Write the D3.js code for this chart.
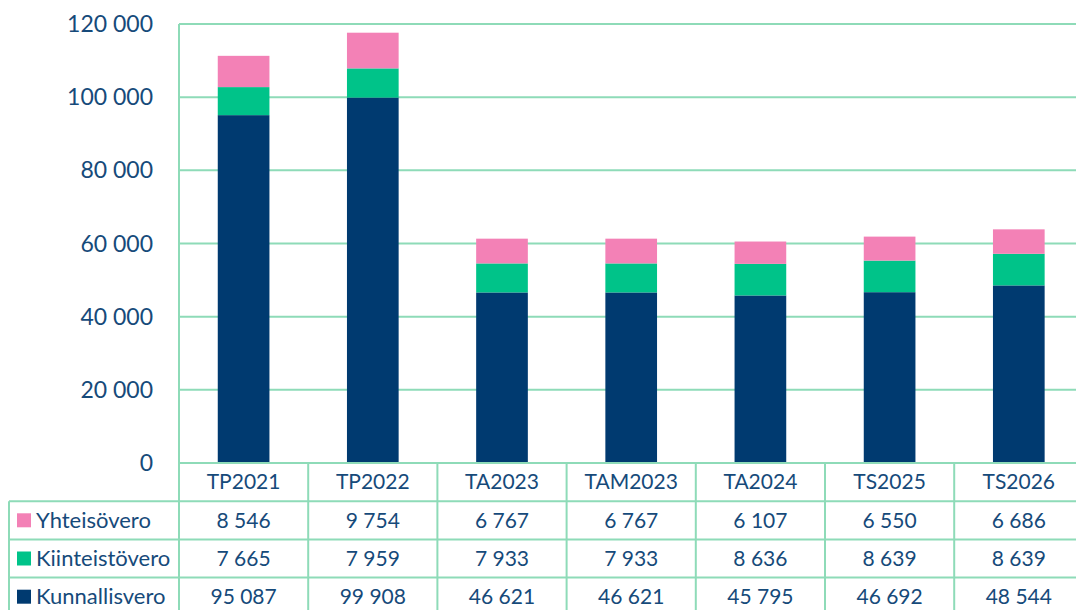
<!DOCTYPE html>
<html>
<head>
<meta charset="utf-8">
<script src="https://cdn.jsdelivr.net/npm/d3@7"></script>
<style>
  body { margin: 0; background: #fff; }
  svg { display: block; font-family: Lato, "Open Sans", sans-serif; }
</style>
</head>
<body>
<svg width="1076" height="610"></svg>
<script>
// chart data
var categories = ["TP2021", "TP2022", "TA2023", "TAM2023", "TA2024", "TS2025", "TS2026"];
var kunnallisvero = [95087, 99908, 46621, 46621, 45795, 46692, 48544];
var kiinteistovero = [7665, 7959, 7933, 7933, 8636, 8639, 8639];
var yhteisovero = [8546, 9754, 6767, 6767, 6107, 6550, 6686];
var seriesNames = ["Kunnallisvero", "Kiinteistövero", "Yhteisövero"];
var yTicks = [0, 20000, 40000, 60000, 80000, 100000, 120000];

var colors = { "Kunnallisvero": "#003a70", "Kiinteistövero": "#00c389", "Yhteisövero": "#f381b6" };
var textColor = "#164a7a";
var lineColor = "#8edbb8";

var width = 1076, height = 610;
var plotLeft = 179, plotTop = 24, plotBottom = 463;
var colW = 129.2;

var svg = d3.select("svg");

// build rows for the stack
var rows = categories.map(function(c, i) {
    return { cat: c, "Kunnallisvero": kunnallisvero[i], "Kiinteistövero": kiinteistovero[i], "Yhteisövero": yhteisovero[i] };
});

var xScale = d3.scaleBand().domain(categories).range([plotLeft, plotLeft + colW * categories.length]).padding(0);
var yScale = d3.scaleLinear().domain([0, 120000]).range([plotBottom, plotTop]);

var fmt = function(v) { return d3.format(",")(v).replace(/,/g, " "); };

// gridlines
svg.append("g")
    .selectAll("line")
    .data(yTicks.slice(1))
    .enter().append("line")
    .attr("x1", plotLeft).attr("x2", width)
    .attr("y1", function(d) { return yScale(d); })
    .attr("y2", function(d) { return yScale(d); })
    .attr("stroke", lineColor)
    .attr("stroke-width", 2);

// y tick labels
svg.append("g")
    .selectAll("text")
    .data(yTicks)
    .enter().append("text")
    .attr("x", 153)
    .attr("y", function(d) { return yScale(d); })
    .attr("dy", "0.35em")
    .attr("text-anchor", "end")
    .attr("fill", textColor)
    .style("font-size", "23px")
    .text(function(d) { return fmt(d); });

// stacked bars
var stack = d3.stack().keys(seriesNames)(rows);
var barW = xScale.bandwidth() * 0.4;

svg.append("g")
    .selectAll("g")
    .data(stack)
    .enter().append("g")
    .attr("fill", function(d) { return colors[d.key]; })
    .selectAll("rect")
    .data(function(d) { return d; })
    .enter().append("rect")
    .attr("x", function(d) { return xScale(d.data.cat) + (xScale.bandwidth() - barW) / 2; })
    .attr("y", function(d) { return yScale(d[1]); })
    .attr("width", barW)
    .attr("height", function(d) { return yScale(d[0]) - yScale(d[1]); });

// data table
var rowH = 38.2;
var tableTop = plotBottom;
var legendLeft = 9;

var grid = svg.append("g").attr("stroke", lineColor).attr("stroke-width", 2);

// left axis line
grid.append("line").attr("x1", plotLeft).attr("x2", plotLeft).attr("y1", plotTop).attr("y2", height);
// header top line
grid.append("line").attr("x1", plotLeft).attr("x2", width).attr("y1", tableTop).attr("y2", tableTop);
// row lines
[1, 2, 3].forEach(function(r) {
    grid.append("line")
        .attr("x1", legendLeft).attr("x2", width)
        .attr("y1", tableTop + r * rowH).attr("y2", tableTop + r * rowH);
});
// legend left border
grid.append("line").attr("x1", legendLeft).attr("x2", legendLeft).attr("y1", tableTop + rowH).attr("y2", height);
// column separators
categories.forEach(function(c) {
    var xr = xScale(c) + xScale.bandwidth();
    grid.append("line").attr("x1", xr).attr("x2", xr).attr("y1", tableTop).attr("y2", height);
});

// header labels
svg.append("g")
    .selectAll("text")
    .data(categories)
    .enter().append("text")
    .attr("x", function(d) { return xScale(d) + xScale.bandwidth() / 2; })
    .attr("y", tableTop + rowH / 2)
    .attr("dy", "0.35em")
    .attr("text-anchor", "middle")
    .attr("fill", textColor)
    .style("font-size", "21px")
    .text(function(d) { return d; });

// table rows (top to bottom)
var tableRows = [
    { name: "Yhteisövero", values: yhteisovero },
    { name: "Kiinteistövero", values: kiinteistovero },
    { name: "Kunnallisvero", values: kunnallisvero }
];

tableRows.forEach(function(r, i) {
    var cy = tableTop + rowH * (i + 1) + rowH / 2;
    svg.append("rect")
        .attr("x", 17).attr("y", cy - 7)
        .attr("width", 14).attr("height", 14)
        .attr("fill", colors[r.name]);
    svg.append("text")
        .attr("x", 36).attr("y", cy)
        .attr("dy", "0.35em")
        .attr("fill", textColor)
        .style("font-size", "22px")
        .text(r.name);
    svg.append("g")
        .selectAll("text")
        .data(r.values)
        .enter().append("text")
        .attr("x", function(d, j) { return xScale(categories[j]) + xScale.bandwidth() / 2; })
        .attr("y", cy)
        .attr("dy", "0.35em")
        .attr("text-anchor", "middle")
        .attr("fill", textColor)
        .style("font-size", "21px")
        .text(function(d) { return fmt(d); });
});
</script>
</body>
</html>
